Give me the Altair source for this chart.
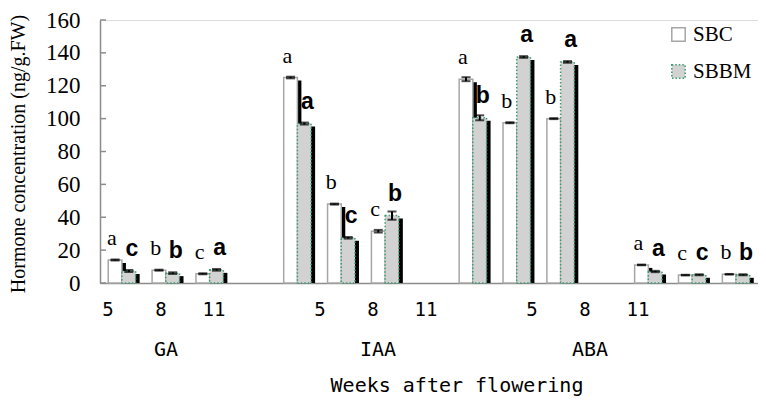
import altair as alt
import pandas as pd

# ---- data ----
bar_groups = ["GA", "IAA", "ABA", "ABA2"]          # four bar clusters
weeks = ["5", "8", "11"]
series = ["SBC", "SBBM"]

sbc_vals = [14.0, 7.8, 5.6, 125.0, 48.0, 31.5, 124.0, 97.5, 100.0, 11.0, 4.8, 5.3]
sbbm_vals = [7.3, 6.0, 8.0, 97.0, 27.5, 41.0, 100.5, 137.5, 134.5, 7.0, 5.0, 5.0]
sbc_err = [0.3, 0.3, 0.3, 0.5, 0.3, 0.8, 1.2, 0.3, 0.3, 0.2, 0.2, 0.2]
sbbm_err = [0.6, 0.5, 0.5, 0.6, 0.5, 2.5, 1.5, 0.5, 0.5, 0.4, 0.3, 0.3]
sbc_letters = ["a", "b", "c", "a", "b", "c", "a", "b", "b", "a", "c", "b"]
sbbm_letters = ["c", "b", "a", "a", "c", "b", "b", "a", "a", "a", "c", "b"]

label_groups = ["GA", "IAA", "ABA"]                 # category labels under the axis
y_ticks = [0, 20, 40, 60, 80, 100, 120, 140, 160]

# ---- tables ----
slot_domain = []
for gi, g in enumerate(bar_groups):
    for w in weeks:
        slot_domain.append(f"{g}-{w}")
    if gi < len(bar_groups) - 1:
        slot_domain.append(f"gap{gi}")

rows = []
i = 0
for g in bar_groups:
    for w in weeks:
        slot = f"{g}-{w}"
        rows.append(dict(slot=slot, series="SBC", value=sbc_vals[i], err=sbc_err[i],
                         letter=sbc_letters[i]))
        rows.append(dict(slot=slot, series="SBBM", value=sbbm_vals[i], err=sbbm_err[i],
                         letter=sbbm_letters[i]))
        i += 1
df = pd.DataFrame(rows)
df["lo"] = df["value"] - df["err"]
df["hi"] = df["value"] + df["err"]
df["base0"] = 0.0

lab_rows = []
for gi, g in enumerate(label_groups):
    for wi, w in enumerate(weeks):
        lab_rows.append(dict(k=4 * gi + wi, week=w))
lab_df = pd.DataFrame(lab_rows)
grp_df = pd.DataFrame(dict(k=[4 * gi + 1 for gi in range(len(label_groups))],
                           name=label_groups))
tick_df = pd.DataFrame(dict(value=y_ticks))

W = 658
TOP = 12
H = 275 - TOP
STEP = W / len(slot_domain)
SHADOW = 4

# ---- encodings ----
X = alt.X("slot:N", scale=alt.Scale(domain=slot_domain, paddingInner=0, paddingOuter=0),
          axis=alt.Axis(labels=False, ticks=False, title=None, grid=False,
                        domainColor="#8c8c8c", domainWidth=1.5))
XO = alt.XOffset("series:N", scale=alt.Scale(domain=series, paddingInner=0, paddingOuter=0.6))
XO_SH = alt.XOffset("series:N", scale=alt.Scale(domain=series, paddingInner=0, paddingOuter=0.6,
                                                range=[SHADOW, STEP + SHADOW]))
YAX = alt.Axis(values=y_ticks, title=None, ticks=False, grid=False, labelOverlap=False,
               labelFont="Liberation Serif", labelFontSize=23, labelColor="black",
               labelPadding=20, domainColor="#8c8c8c", domainWidth=1.5)
YSC = alt.Scale(domain=[0, 160], nice=False, zero=True)
Y = alt.Y("value:Q", scale=YSC, axis=YAX)

base = alt.Chart(df)

ticks = alt.Chart(tick_df).mark_rule(color="#8c8c8c", strokeWidth=1.5).encode(
    x=alt.value(0), x2=alt.value(6), y=Y)

shadow = base.mark_bar(color="black", yOffset=3).encode(
    x=X, xOffset=XO_SH, y=Y, y2=alt.Y2("base0:Q"))

leg = dict(title=None, orient="none", legendX=568, legendY=4,
           symbolType="square", symbolSize=180, symbolStrokeWidth=1.5,
           labelFont="Liberation Serif", labelFontSize=21,
           labelColor="black", rowPadding=15, padding=0, labelOffset=4)

bars = base.mark_bar(strokeWidth=1.5).encode(
    x=X, xOffset=XO, y=Y,
    fill=alt.Fill("series:N", scale=alt.Scale(domain=series, range=["white", "#d2d2d2"]),
                  legend=alt.Legend(**leg)),
    stroke=alt.Stroke("series:N", scale=alt.Scale(domain=series, range=["#a6a6a6", "#3f9a70"]),
                      legend=alt.Legend(**leg)),
    strokeDash=alt.StrokeDash("series:N",
                              scale=alt.Scale(domain=series, range=[[1, 0], [1.5, 2]]),
                              legend=alt.Legend(**leg)),
)

err_rule = base.mark_rule(color="black", strokeWidth=2).encode(
    x=X, xOffset=XO, y=alt.Y("lo:Q", scale=YSC, axis=YAX), y2="hi:Q")
err_cap_hi = base.mark_tick(color="black", size=9, thickness=2).encode(
    x=X, xOffset=XO, y=alt.Y("hi:Q", scale=YSC, axis=YAX))
err_cap_lo = base.mark_tick(color="black", size=9, thickness=2).encode(
    x=X, xOffset=XO, y=alt.Y("lo:Q", scale=YSC, axis=YAX))

let_sbc = base.transform_filter(alt.datum.series == "SBC").mark_text(
    font="Liberation Serif", fontSize=22, color="black", baseline="alphabetic", dy=-15
).encode(x=X, xOffset=XO, y=Y, text="letter:N")
let_sbbm = base.transform_filter(alt.datum.series == "SBBM").mark_text(
    font="Liberation Sans", fontSize=23, fontWeight="bold", color="black",
    baseline="alphabetic", dy=-15
).encode(x=X, xOffset=XO, y=Y, text="letter:N")

inner = alt.layer(ticks, shadow, bars, err_rule, err_cap_hi, err_cap_lo, let_sbc, let_sbbm
                  ).resolve_scale(xOffset="independent")

KX = alt.X("k:Q", scale=alt.Scale(domain=[-0.151, 12.264], nice=False, zero=False), axis=None)

week_labels = alt.Chart(lab_df).mark_text(
    font="DejaVu Sans Mono", fontSize=19, color="black", baseline="middle"
).encode(x=KX, y=alt.value(310 - 8 - TOP), text="week:N")

group_labels = alt.Chart(grp_df).mark_text(
    font="DejaVu Sans Mono", fontSize=20, color="black", baseline="middle", dx=5
).encode(x=KX, y=alt.value(350 - 8 - TOP), text="name:N")

x_title = alt.Chart(pd.DataFrame(dict(t=["Weeks after flowering"]))).mark_text(
    font="DejaVu Sans Mono", fontSize=20, color="black", baseline="alphabetic"
).encode(x=alt.value(357), y=alt.value(392 - 8 - TOP), text="t:N")

y_title = alt.Chart(pd.DataFrame(dict(t=["Hormone concentration (ng/g.FW)"]))).mark_text(
    font="Liberation Serif", fontSize=20, color="black", baseline="alphabetic", angle=270
).encode(x=alt.value(-75), y=alt.value(154 - 8 - TOP), text="t:N")

chart = alt.layer(inner, week_labels, group_labels, x_title, y_title).resolve_scale(
    x="independent"
).properties(
    width=W, height=H,
    autosize=alt.AutoSizeParams(type="none"),
    padding={"left": 92, "top": TOP, "right": 0, "bottom": 390 - TOP - H},
).configure_view(stroke=None).configure(background="white")

chart.save("out.html", embed_options={"renderer": "svg", "actions": False})
